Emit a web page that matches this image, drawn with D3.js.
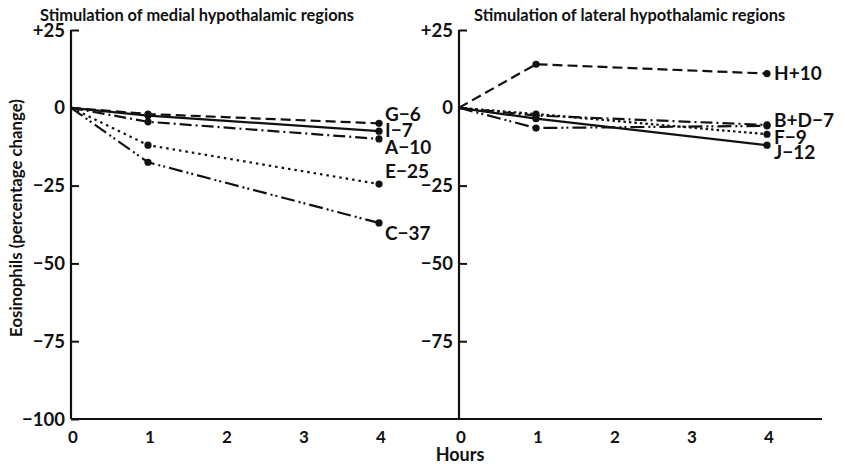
<!DOCTYPE html>
<html><head><meta charset="utf-8">
<script src="https://cdn.jsdelivr.net/npm/d3@7"></script>
<style>body{margin:0;background:#fff}svg{display:block}text{font-family:Lato,"Open Sans",sans-serif;font-weight:bold;fill:#111}</style>
</head><body><svg id="c" width="845" height="466"></svg>
<script>
const hours = [0, 1, 4];
const xTicks = [0, 1, 2, 3, 4];
const yTicks = [25, 0, -25, -50, -75, -100];
const yTickLabels = ["+25", "0", "\u221225", "\u221250", "\u221275", "\u2212100"];
const panelTitles = ["Stimulation of medial hypothalamic regions", "Stimulation of lateral hypothalamic regions"];
const medialNames = ["G\u22126", "I\u22127", "A\u221210", "E\u221225", "C\u221237"];
const medialValues = [
  [0, -2, -5],
  [0, -2.5, -7.5],
  [0, -4.5, -10],
  [0, -12, -24.5],
  [0, -17.5, -37]
];
const lateralNames = ["H+10", "B+D\u22127", "", "F\u22129", "J\u221212"];
const lateralValues = [
  [0, 14, 11],
  [0, -2.5, -5.5],
  [0, -6.5, -5.8],
  [0, -2, -8.5],
  [0, -3.5, -12]
];
// styling (not data)
const medialDash = ["10,5", null, "12,4,2,4", "2.5,4", "14,4,2,3,2,4"];
const medialLabelDy = [-9, -1, 8, -13, 10];
const lateralDash = ["10,5", "12,4,2,4", "14,4,2,3,2,4", "2.5,3", null];
const lateralLabelDy = [0, -5, 0, 3, 7];

const svg = d3.select("#c");
const y = d3.scaleLinear().domain([-100, 25]).range([419, 30]);
const panels = [
  {x0: 71, names: medialNames, values: medialValues, dash: medialDash, dy: medialLabelDy, title: panelTitles[0], tx: 40, lblX: 6},
  {x0: 459, names: lateralNames, values: lateralValues, dash: lateralDash, dy: lateralLabelDy, title: panelTitles[1], tx: 474, lblX: 7}
];

// x axis baseline
svg.append("line").attr("x1", 71).attr("x2", 822).attr("y1", 419).attr("y2", 419)
  .attr("stroke", "#111").attr("stroke-width", 2.2);

panels.forEach(p => {
  const x = d3.scaleLinear().domain([0, 4]).range([p.x0, p.x0 + 308]);
  // y axis
  const ax = svg.append("g").attr("transform", `translate(${p.x0},0)`)
    .call(d3.axisRight(y).tickValues(yTicks).tickSize(8).tickFormat(""));
  ax.select(".domain").attr("d", `M0,${y(25)}V${y(-100)}`).attr("stroke", "#111").attr("stroke-width", 2.2);
  ax.selectAll(".tick line").attr("stroke", "#111").attr("stroke-width", 2);
  if (p.x0 === 459) ax.selectAll(".tick").filter(d => d === -100).remove();
  yTicks.forEach((t, i) => {
    if (p.x0 === 459 && t === -100) return;
    svg.append("text").attr("x", p.x0 - 6).attr("y", y(t)).attr("dy", "0.36em")
      .attr("text-anchor", "end").attr("font-size", 18.5).text(yTickLabels[i]);
  });
  // x tick labels
  xTicks.forEach(t => {
    svg.append("text").attr("x", x(t) + 2).attr("y", 437).attr("dy", "0.36em")
      .attr("text-anchor", "middle").attr("font-size", 17).text(t);
  });
  // title
  svg.append("text").attr("x", p.tx).attr("y", 21).attr("font-size", 16.4).attr("font-weight", 600).text(p.title);
  // series
  const line = d3.line().x((d, i) => x(hours[i])).y(d => y(d));
  p.values.forEach((vals, k) => {
    svg.append("path").attr("d", line(vals)).attr("fill", "none").attr("stroke", "#111")
      .attr("stroke-width", 2.2).attr("stroke-dasharray", p.dash[k]);
    vals.forEach((v, i) => {
      if (i === 0) return;
      svg.append("circle").attr("cx", x(hours[i])).attr("cy", y(v)).attr("r", 3.6).attr("fill", "#111");
    });
    if (p.names[k]) {
      svg.append("text").attr("x", x(4) + p.lblX).attr("y", y(vals[2]) + p.dy[k]).attr("dy", "0.36em")
        .attr("font-size", 19).text(p.names[k]);
    }
  });
});

// axis titles
svg.append("text").attr("transform", "translate(16,218) rotate(-90)").attr("text-anchor", "middle")
  .attr("dy", "0.36em").attr("font-size", 16.8).text("Eosinophils (percentage change)");
svg.append("text").attr("x", 460).attr("y", 455).attr("dy", "0.36em").attr("text-anchor", "middle")
  .attr("font-size", 18).text("Hours");
</script></body></html>
